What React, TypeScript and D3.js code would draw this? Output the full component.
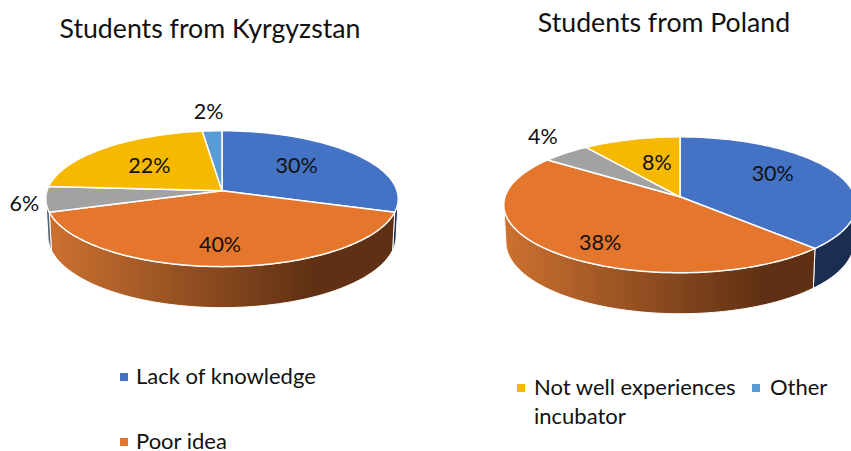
import React from "react";
import * as d3 from "d3";

const categories = ["Lack of knowledge", "Poor idea", "Neutral", "Not well experiences incubator", "Other"];
const colors = ["#4472c4", "#e5762e", "#a2a2a2", "#f7b900", "#5b9bd5"];
const wallColors = ["#1b2e52", "url(#G)", "#5d6470", "#8a6c00", "#2f5a80"];
const kyrgyzstanValues = [30, 40, 6, 22, 2];
const polandValues = [30, 38, 4, 8, 0];

const TILT = 0.1176;
const RX = 175;
const RY = 67;
const FONT = "Lato, 'Noto Sans', sans-serif";

type PieCfg = {
  id: string; title: string; titleX: number; titleY: number; values: number[]; cx: number; cy: number;
  darkStop: number; nudges: [number, number, number][];
};

const pies: PieCfg[] = [
  { id: "k", title: "Students from Kyrgyzstan", titleX: 210, titleY: 38, values: kyrgyzstanValues, cx: 222, cy: 190.7, darkStop: 0.76,
    nudges: [[0.7, -20, 1], [0.7, -2, 3], [1.12, 0, 3], [0.7, 12, 5], [1.3, -1, -4]] },
  { id: "p", title: "Students from Poland", titleX: 664, titleY: 32, values: polandValues, cx: 680, cy: 196.8, darkStop: 0.84,
    nudges: [[0.7, -17, -6], [0.7, 5, 8], [1.3, 8, -5], [0.7, 12, 7], [1, 0, 0]] },
];

const legendItems = [
  { cat: 0, mx: 120, my: 373, tx: 136, lines: [384] },
  { cat: 1, mx: 120, my: 438, tx: 136, lines: [449] },
  { cat: 3, mx: 517, my: 384, tx: 534, lines: [395, 424] },
  { cat: 4, mx: 752, my: 384, tx: 770, lines: [395] },
];
const legendText = (cat: number) => cat === 3 ? ["Not well experiences", "incubator"] : [categories[cat]];

function project(cx: number, cy: number, a: number, f = 1, depth = 0): [number, number] {
  const x = Math.sin(a) * f;
  const y = -Math.cos(a) * f;
  const k = 1 / (1 - TILT * y);
  const shrink = depth ? 0.988 : 1;
  return [cx + RX * x * k * shrink, cy + RY * y * k + (depth ? 36.5 + 4.5 * y : 0)];
}

const WALL_A = Math.acos(-TILT);

function arcPoints(s: number, e: number) {
  const n = Math.max(2, Math.ceil((e - s) / 0.02));
  return d3.range(n + 1).map((i) => s + ((e - s) * i) / n);
}
const line = d3.line<[number, number]>();

function Pie({ cfg }: { cfg: PieCfg }) {
  const arcs = d3.pie<number>().sort(null).value((d) => d)(cfg.values);
  const { cx, cy } = cfg;
  const lo = WALL_A;
  const hi = 2 * Math.PI - WALL_A;
  return (
    <g>
      <defs>
        <linearGradient id={cfg.id === "k" ? "G" : "GP"} x1="0" x2="1" y1="0" y2="0">
          <stop offset="0" stopColor="#cc7130" />
          <stop offset={cfg.darkStop} stopColor="#5f3013" />
          <stop offset="1" stopColor="#5f3013" />
        </linearGradient>
      </defs>
      {arcs.map((d, i) => {
        const s = Math.max(d.startAngle, lo);
        const e = Math.min(d.endAngle, hi);
        if (e <= s || d.value === 0) return null;
        const top = arcPoints(s, e).map((a) => project(cx, cy, a));
        const bot = arcPoints(s, e).reverse().map((a) => project(cx, cy, a, 1, 1));
        const fill = wallColors[i] === "url(#G)" ? `url(#${cfg.id === "k" ? "G" : "GP"})` : wallColors[i];
        return <path key={i} d={line([...top, ...bot])! + "Z"} fill={fill} stroke="#fff" strokeWidth={1} />;
      })}
      {arcs.map((d, i) => {
        if (d.value === 0) return null;
        const pts = arcPoints(d.startAngle, d.endAngle).map((a) => project(cx, cy, a));
        return <path key={i} d={line([[cx, cy], ...pts])! + "Z"} fill={colors[i]} stroke="#fff" strokeWidth={1.5} strokeLinejoin="round" />;
      })}
      {arcs.map((d, i) => {
        if (d.value === 0) return null;
        const [f, dx, dy] = cfg.nudges[i];
        const [x, y] = project(cx, cy, (d.startAngle + d.endAngle) / 2, f);
        return (
          <text key={i} x={x + dx} y={y + dy} dy="0.35em" textAnchor="middle" fontSize={21.5} fill="#111">
            {d.value}%
          </text>
        );
      })}
      <text x={cfg.titleX} y={cfg.titleY} textAnchor="middle" fontSize={26.7} fill="#111">{cfg.title}</text>
    </g>
  );
}

export default function App() {
  return (
    <svg width={851} height={451} style={{ position: "absolute", left: 0, top: 0, background: "#fff" }} fontFamily={FONT}>
      {pies.map((p) => <Pie key={p.id} cfg={p} />)}
      {legendItems.map((l) => (
        <g key={l.cat}>
          <rect x={l.mx} y={l.my} width={8} height={8} fill={colors[l.cat]} />
          {legendText(l.cat).map((t, i) => (
            <text key={i} x={l.tx} y={l.lines[i]} fontSize={22} fill="#111">{t}</text>
          ))}
        </g>
      ))}
    </svg>
  );
}
